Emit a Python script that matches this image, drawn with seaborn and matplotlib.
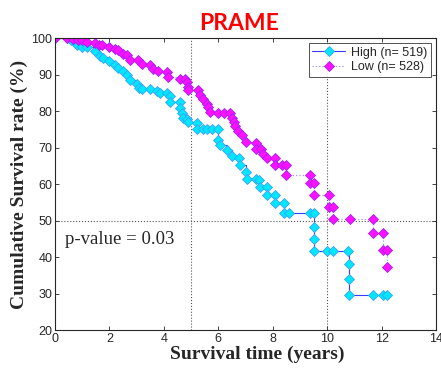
import matplotlib
matplotlib.use("Agg")
import matplotlib.pyplot as plt
import seaborn as sns

# ---- data (KM step vertices) ----
high_time = [0, 0.43, 0.6, 0.8, 0.98, 1.17, 1.47, 1.65, 1.77, 2.0, 2.2, 2.33, 2.5, 2.64,
             2.76, 3.0, 3.1, 3.18, 3.5, 3.74, 3.86, 4.1, 4.23, 4.23, 4.6, 4.6, 4.66, 4.72,
             4.84, 4.9, 5.22, 5.22, 5.45, 5.57, 5.76, 6.0, 6.0, 6.07, 6.32, 6.5, 6.75, 6.8,
             7.0, 7.05, 7.4, 7.5, 7.54, 7.78, 7.78, 8.09, 8.09, 8.4, 8.4, 8.58, 9.38, 9.5,
             9.5, 9.5, 9.5, 10.0, 10.23, 10.78, 10.8, 10.8, 10.82, 11.67, 12.04, 12.2]
high_surv = [100, 100, 99.5, 98.1, 97.6, 97.6, 96.5, 95.2, 94.4, 93.8, 92.6, 91.8, 91.1, 90.0,
             88.4, 87.3, 86.4, 86.0, 86.0, 85.5, 84.9, 84.9, 84.0, 82.6, 82.6, 80.8, 79.5, 78.2,
             77.8, 77.1, 76.6, 75.2, 75.2, 75.2, 75.2, 75.2, 72.1, 70.7, 69.3, 67.6, 67.1, 65.3,
             63.4, 61.3, 61.3, 61.0, 59.3, 59.3, 57.0, 57.0, 54.7, 54.7, 52.0, 52.0, 52.0, 52.0,
             48.3, 44.8, 41.7, 41.7, 41.7, 41.7, 38.0, 34.0, 29.7, 29.7, 29.7, 29.7]

low_time = [0, 0.43, 0.67, 0.86, 0.98, 1.17, 1.47, 1.6, 1.72, 2.0, 2.2, 2.33, 2.5, 2.64,
            2.76, 3.06, 3.18, 3.5, 3.6, 3.8, 4.1, 4.16, 4.6, 4.78, 4.84, 4.9, 4.9, 5.27,
            5.33, 5.45, 5.57, 5.64, 5.7, 6.0, 6.2, 6.44, 6.5, 6.56, 6.62, 6.74, 6.86, 7.0,
            7.4, 7.4, 7.58, 7.65, 7.78, 8.09, 8.09, 8.33, 8.5, 8.5, 9.38, 9.38, 9.5, 9.5,
            10.05, 10.05, 10.23, 10.23, 10.84, 11.7, 11.7, 12.04, 12.04, 12.2, 12.2]
low_surv = [100, 100, 99.8, 99.5, 99.5, 99.0, 98.5, 98.1, 98.1, 97.6, 97.1, 96.7, 95.7, 95.3,
            93.9, 93.9, 93.0, 92.5, 91.6, 91.1, 90.6, 89.3, 88.9, 88.9, 88.0, 86.6, 85.7, 85.7,
            84.3, 83.2, 81.9, 81.0, 79.8, 79.5, 79.5, 79.5, 78.0, 77.0, 75.9, 74.4, 73.4, 71.6,
            71.3, 69.5, 69.5, 68.2, 67.2, 67.2, 65.2, 65.2, 65.2, 62.6, 62.6, 60.3, 60.3, 57.0,
            57.0, 53.8, 53.8, 50.5, 50.5, 50.5, 46.6, 46.6, 41.9, 41.9, 37.3]

high_label = "High (n= 519)"
low_label = "Low (n= 528)"
x_ticks = [0, 2, 4, 6, 8, 10, 12, 14]
y_ticks = [20, 30, 40, 50, 60, 70, 80, 90, 100]

# ---- style ----
sns.set_style("ticks")
plt.rcParams['font.family'] = ['Liberation Sans', 'DejaVu Sans']

fig = plt.figure(figsize=(4.41, 3.72), dpi=100)
ax = fig.add_axes([0.1247, 0.1129, 0.8640, 0.7849])

# 기준선 (5년, 10년, 50%)
for xv in [5, 10]:
    ax.axvline(xv, color='#555555', linestyle=':', linewidth=0.8, zorder=0)
ax.axhline(50, color='#555555', linestyle=':', linewidth=0.8, zorder=0)

sns.lineplot(x=high_time, y=high_surv, ax=ax, estimator=None, sort=False,
             drawstyle='steps-post', color='#3a3aff', linewidth=0.8,
             marker='D', markersize=5.2, markerfacecolor='#00e8ff',
             markeredgecolor='#3aa0ff', markeredgewidth=0.6, label=high_label)
sns.lineplot(x=low_time, y=low_surv, ax=ax, estimator=None, sort=False,
             drawstyle='steps-post', color='#9a9aff', linewidth=0.9, linestyle=':',
             marker='D', markersize=5.2, markerfacecolor='#ff10ff',
             markeredgecolor='#a020ff', markeredgewidth=0.6, label=low_label)

ax.set_xlim(0, 14)
ax.set_ylim(20, 100)
ax.set_xticks(x_ticks)
ax.set_yticks(y_ticks)
ax.tick_params(direction='in', top=True, right=True, length=3, width=0.6,
               labelsize=9, colors='#262626', pad=2)
for sp in ax.spines.values():
    sp.set_visible(True)
    sp.set_linewidth(0.8)
    sp.set_color('#262626')

ax.set_xlabel('Survival time (years)', family='Liberation Serif', fontweight='bold',
              fontsize=14, labelpad=1)
ax.xaxis.set_label_coords(0.53, -0.055)
ax.set_ylabel('Cumulative Survival rate (%)', family='Liberation Serif', fontweight='bold',
              fontsize=14, labelpad=2)
ax.set_title('PRAME', color='red', family='Lato', fontweight='bold', fontsize=16.5,
             x=0.483, pad=6)

ax.text(0.35, 44.7, 'p-value = 0.03', family='Liberation Serif', fontsize=13.5,
        va='center', ha='left')

leg = ax.legend(loc='upper right', fontsize=9, frameon=True, fancybox=False,
                edgecolor='#262626', handlelength=2.6, borderpad=0.3, labelspacing=0.2,
                handletextpad=0.5, borderaxespad=0.4)
leg.get_frame().set_linewidth(0.7)

plt.savefig('out.png', dpi=100)
